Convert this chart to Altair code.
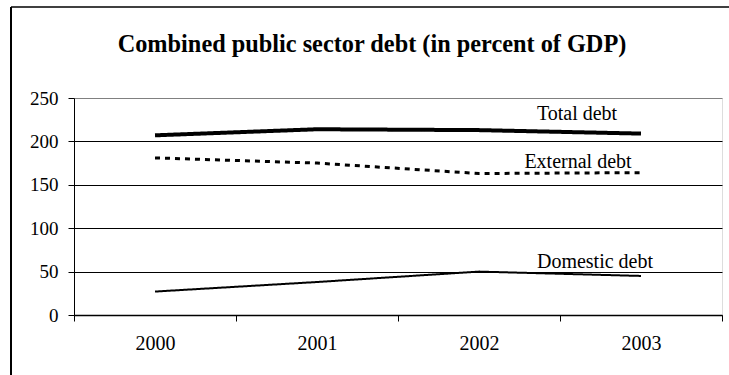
import altair as alt
import pandas as pd

years = ["2000", "2001", "2002", "2003"]
total_debt = [207, 214, 213, 209]
external_debt = [181, 175, 163, 164]
domestic_debt = [27, 38, 50, 45]
series_names = ["Total debt", "External debt", "Domestic debt"]
title_text = "Combined public sector debt (in percent of GDP)"

rows = []
for name, vals in zip(series_names, [total_debt, external_debt, domestic_debt]):
    for y, v in zip(years, vals):
        rows.append({"year": y, "value": v, "series": name})
df = pd.DataFrame(rows)

FONT = "Liberation Serif"

x_enc = alt.X(
    "year:O",
    scale=alt.Scale(type="band", paddingInner=0, paddingOuter=0),
    bandPosition=0.5,
    axis=alt.Axis(
        title=None, labelAngle=0, tickBand="extent", grid=False,
        labelFont=FONT, labelFontSize=20, labelColor="black",
        domainColor="black", tickColor="black", tickSize=6,
        labelPadding=12, domainWidth=1.5,
    ),
)
y_enc = alt.Y(
    "value:Q",
    scale=alt.Scale(domain=[0, 250], nice=False),
    axis=alt.Axis(
        title=None, values=[0, 50, 100, 150, 200, 250],
        labelFont=FONT, labelFontSize=19, labelColor="black",
        domainColor="black", tickColor="black", tickSize=6,
        labelPadding=10, grid=True,
        gridColor=alt.condition(alt.datum.value == 250, alt.value("#808080"), alt.value("black")),
        gridWidth=1,
    ),
)

lines = alt.Chart(df).mark_line(color="black").encode(
    x=x_enc,
    y=y_enc,
    detail="series:N",
    strokeWidth=alt.StrokeWidth(
        "series:N",
        scale=alt.Scale(domain=series_names, range=[4, 2, 1.5]),
        legend=None,
    ),
    strokeDash=alt.StrokeDash(
        "series:N",
        scale=alt.Scale(domain=series_names, range=[[1, 0], [5, 5], [1, 0]]),
        legend=None,
    ),
)

last = df[df["year"] == years[-1]]

def label(name, dx, dy):
    return alt.Chart(last[last["series"] == name]).mark_text(
        font=FONT, fontSize=20, color="black", dx=dx, dy=dy, baseline="middle", align="center"
    ).encode(
        x=alt.X("year:O", bandPosition=0.5),
        y="value:Q",
        text="series:N",
    )

labels = label("Total debt", -64, -20) + label("External debt", -63, -11) + label("Domestic debt", -46, -14)

title = alt.Chart(pd.DataFrame({"t": [title_text]})).mark_text(
    font=FONT, fontSize=24.3, fontWeight="bold", color="black", align="center", baseline="middle"
).encode(x=alt.value(298), y=alt.value(-53), text="t:N")

border_top = alt.Chart(df.head(1)).mark_rule(color="#404040", strokeWidth=2).encode(
    x=alt.value(-63), x2=alt.value(655), y=alt.value(-91)
)
border_left = alt.Chart(df.head(1)).mark_rule(color="black", strokeWidth=2).encode(
    x=alt.value(-63), y=alt.value(-91), y2=alt.value(280)
)

chart = alt.layer(border_top, border_left, lines, labels, title).properties(
    width=648,
    height=217,
    autosize=alt.AutoSizeParams(type="none"),
    padding={"left": 74, "top": 98, "right": 7, "bottom": 60},
).configure_view(stroke="#808080", strokeWidth=1.5).configure(background="white")

chart.save("out.html", embed_options={"renderer": "svg", "actions": False})
